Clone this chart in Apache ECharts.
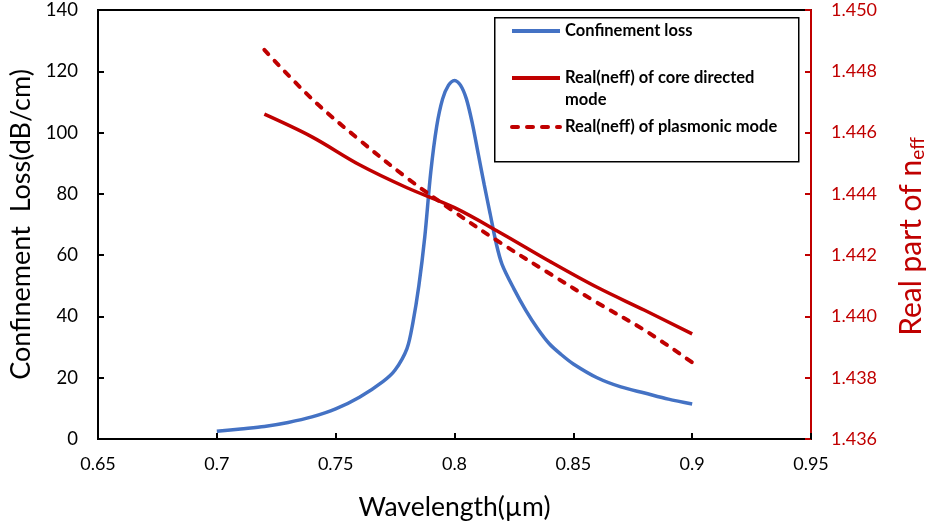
<!DOCTYPE html>
<html>
<head>
<meta charset="utf-8">
<script src="https://cdn.jsdelivr.net/npm/echarts@6/dist/echarts.min.js"></script>
<style>html,body{margin:0;padding:0;background:#fff}#c{width:928px;height:527px}</style>
</head>
<body>
<div id="c"></div>
<script>
// Confinement loss (dB/cm)
var lossWl = [0.70,0.71,0.72,0.73,0.74,0.75,0.76,0.77,0.775,0.78,0.7825,0.785,0.7875,0.79,0.7925,0.795,0.7975,0.80,0.8025,0.805,0.8075,0.81,0.8125,0.815,0.8175,0.82,0.825,0.83,0.835,0.84,0.845,0.85,0.86,0.87,0.88,0.89,0.90];
var lossVal = [2.5,3.3,4.1,5.4,7.2,9.8,13.6,18.8,22.5,29.5,38,50,66,87,102,111,115.5,117,115.5,111,103,93,83,73.5,64,57,49,42,36,31,27.5,24.5,20,17,15,13,11.4];
// Real(neff) of core directed mode
var coreWl = [0.72,0.74,0.76,0.78,0.80,0.82,0.84,0.86,0.88,0.90];
var coreVal = [1.4466,1.44586,1.44495,1.44420,1.44355,1.44270,1.44180,1.44095,1.44020,1.43943];
// Real(neff) of plasmonic mode
var plasWl = [0.72,0.74,0.76,0.78,0.80,0.82,0.84,0.86,0.88,0.90];
var plasVal = [1.4487,1.4471,1.44576,1.44452,1.44341,1.44237,1.44140,1.44045,1.43955,1.43850];

var names = ['Confinement loss', 'Real(neff) of core directed\nmode', 'Real(neff) of plasmonic mode'];
var BLUE = '#4472C4', RED = '#C00000';
var FONT = 'Lato';

function pairs(xs, ys){ return xs.map(function(x,i){ return [x, ys[i]]; }); }

var chart = echarts.init(document.getElementById('c'));
var legendText = {fontFamily: FONT, fontWeight: 'bold', fontSize: 16.5, lineHeight: 22, color: '#000'};
var hideSym = {color: 'rgba(0,0,0,0)', borderColor: 'rgba(0,0,0,0)', borderWidth: 0};
function mkLegend(name, top, fmt){
  var l = {data: [name], left: 510, top: top, padding: 0, itemWidth: 48, itemHeight: 14, itemGap: 5, z: 10,
           textStyle: legendText, itemStyle: hideSym, lineStyle: {width: 4}};
  if (fmt) l.formatter = fmt;
  return l;
}
chart.setOption({
  animation: false,
  backgroundColor: '#fff',
  grid: {left: 98, right: 117, top: 10, bottom: 88, outerBoundsMode: 'none', containLabel: false,
         show: true, borderColor: '#000', borderWidth: 2, backgroundColor: 'transparent'},
  graphic: [{
    type: 'rect', left: 494, top: 17, z: 5,
    shape: {width: 304, height: 144},
    style: {fill: '#fff', stroke: '#000', lineWidth: 1.5}
  }],
  legend: [
    mkLegend(names[0], 20),
    mkLegend(names[1], 45, function(n){ return ' \n' + n; }),
    mkLegend(names[2], 116)
  ],
  xAxis: {
    type: 'value', min: 0.65, max: 0.95, interval: 0.05,
    name: 'Wavelength(µm)', nameLocation: 'middle', nameGap: 55,
    nameTextStyle: {fontFamily: FONT, fontSize: 26.5, color: '#000'},
    axisLine: {onZero: false, lineStyle: {color: '#000', width: 2}},
    axisTick: {inside: true, length: 6, lineStyle: {color: '#000', width: 2}},
    axisLabel: {fontFamily: FONT, fontSize: 18, color: '#000', margin: 16, formatter: function(v){ return String(+v.toFixed(2)); }},
    splitLine: {show: false}
  },
  yAxis: [{
    type: 'value', min: 0, max: 140, interval: 20,
    name: 'Confinement  Loss(dB/cm)', nameLocation: 'middle', nameGap: 62, nameRotate: 90,
    nameTextStyle: {fontFamily: FONT, fontSize: 27, color: '#000'},
    axisLine: {show: true, lineStyle: {color: '#000', width: 2}},
    axisTick: {show: true, inside: true, length: 6, lineStyle: {color: '#000', width: 2}},
    axisLabel: {fontFamily: FONT, fontSize: 18.5, color: '#000', margin: 20},
    splitLine: {show: false}
  }, {
    type: 'value', min: 1.436, max: 1.450, interval: 0.002, position: 'right',
    name: 'Real part of n{sub|eff}', nameLocation: 'middle', nameGap: 84, nameRotate: 90,
    nameTextStyle: {fontFamily: FONT, fontSize: 30, color: RED, padding: [0, 24, 0, 0],
      rich: {sub: {fontFamily: FONT, fontSize: 19, color: RED, verticalAlign: 'bottom', padding: [13,0,0,0]}}},
    axisLine: {show: true, lineStyle: {color: RED, width: 2}},
    axisTick: {show: true, inside: true, length: 6, lineStyle: {color: RED, width: 2}},
    axisLabel: {fontFamily: FONT, fontSize: 18, color: RED, margin: 20, formatter: function(v){ return v.toFixed(3); }},
    splitLine: {show: false}
  }],
  series: [{
    name: names[0], type: 'line', yAxisIndex: 0, data: pairs(lossWl, lossVal),
    smooth: 0.3, showSymbol: false, symbol: 'none',
    lineStyle: {color: BLUE, width: 3.5}, itemStyle: {color: BLUE}
  }, {
    name: names[1], type: 'line', yAxisIndex: 1, data: pairs(coreWl, coreVal),
    smooth: 0.35, showSymbol: false, symbol: 'none',
    lineStyle: {color: RED, width: 3.5}, itemStyle: {color: RED}
  }, {
    name: names[2], type: 'line', yAxisIndex: 1, data: pairs(plasWl, plasVal),
    smooth: 0.35, showSymbol: false, symbol: 'none',
    lineStyle: {color: RED, width: 4, type: [6, 9], cap: 'round'}, itemStyle: {color: RED}
  }]
});
</script>
</body>
</html>
